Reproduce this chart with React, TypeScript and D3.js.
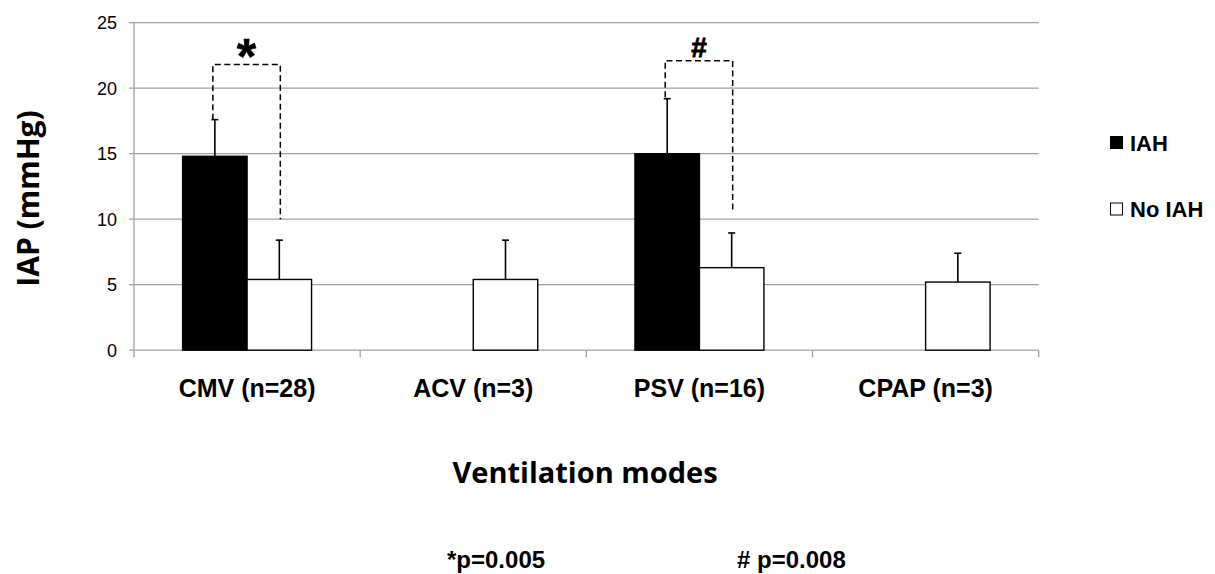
import React from "react";
import * as d3 from "d3";

const categories = ["CMV (n=28)", "ACV (n=3)", "PSV (n=16)", "CPAP (n=3)"];
const seriesNames = ["IAH", "No IAH"];
const iahValues: (number | null)[] = [14.8, null, 15.0, null];
const iahSD: (number | null)[] = [2.8, null, 4.2, null];
const noIahValues: (number | null)[] = [5.4, 5.4, 6.3, 5.2];
const noIahSD: (number | null)[] = [3.0, 3.0, 2.65, 2.2];
const yTicks = [0, 5, 10, 15, 20, 25];
const brackets = [
  { cat: 0, top: 21.8, leftEnd: 17.6, rightEnd: 10.0, label: "*" },
  { cat: 2, top: 22.1, leftEnd: 19.3, rightEnd: 10.6, label: "#" },
];
const pNotes = ["*p=0.005", "# p=0.008"];

const W = 1215;
const H = 574;
const plot = { left: 134, right: 1038.7, top: 22.7, bottom: 350.2 };
const ARIAL = "'Liberation Sans', Arial, sans-serif";
const CALIBRI = "'Open Sans', sans-serif";
const GRID = "#a0a0a0";

export default function App() {
  React.useEffect(() => {
    document.body.style.margin = "0";
  }, []);

  const x = d3.scaleBand<string>().domain(categories).range([plot.left, plot.right]).paddingInner(0).paddingOuter(0);
  const xs = d3.scaleBand<string>().domain(seriesNames).range([0, x.bandwidth()]).paddingInner(0).paddingOuter(0.754);
  const y = d3.scaleLinear().domain([0, 25]).range([plot.bottom, plot.top]);

  const series = [
    { name: "IAH", values: iahValues, sd: iahSD, fill: "#000" },
    { name: "No IAH", values: noIahValues, sd: noIahSD, fill: "#fff" },
  ];

  const boundaries = [...categories.map((c) => x(c)!), plot.right];

  return (
    <svg width={W} height={H} style={{ position: "absolute", left: 0, top: 0, background: "#fff" }}>
      {yTicks.map((t) => (
        <line key={"g" + t} x1={plot.left - 5} x2={plot.right} y1={y(t)} y2={y(t)} stroke={GRID} strokeWidth={1.3} />
      ))}
      <line x1={plot.left} x2={plot.left} y1={plot.top} y2={plot.bottom} stroke={GRID} strokeWidth={1.3} />
      {yTicks.map((t) => (
        <text key={"t" + t} x={117} y={y(t)} dy="0.35em" textAnchor="end" fontFamily={ARIAL} fontSize={18} fill="#000">
          {t}
        </text>
      ))}
      {boundaries.map((b, i) => (
        <line key={"xt" + i} x1={b} x2={b} y1={plot.bottom} y2={plot.bottom + 7} stroke={GRID} strokeWidth={1.3} />
      ))}
      {series.map((s) =>
        categories.map((c, i) => {
          const v = s.values[i];
          if (v == null) return null;
          const bx = x(c)! + xs(s.name)!;
          const bw = xs.bandwidth();
          return (
            <rect
              key={s.name + c}
              x={bx}
              y={y(v)}
              width={bw}
              height={y(0) - y(v)}
              fill={s.fill}
              stroke="#000"
              strokeWidth={1.4}
            />
          );
        })
      )}
      {series.map((s) =>
        categories.map((c, i) => {
          const v = s.values[i];
          const sd = s.sd[i];
          if (v == null || sd == null) return null;
          const cx = x(c)! + xs(s.name)! + xs.bandwidth() / 2;
          return (
            <g key={"e" + s.name + c} stroke="#000" strokeWidth={1.6}>
              <line x1={cx} x2={cx} y1={y(v)} y2={y(v + sd)} />
              <line x1={cx - 3.5} x2={cx + 3.5} y1={y(v + sd)} y2={y(v + sd)} />
            </g>
          );
        })
      )}
      {brackets.map((b, i) => {
        const c = categories[b.cat];
        const lx = x(c)! + xs(seriesNames[0])! + xs.bandwidth() / 2 - 2;
        const rx = x(c)! + xs(seriesNames[1])! + xs.bandwidth() / 2 + 1;
        const isStar = b.label === "*";
        return (
          <g key={"b" + i}>
            <path
              d={`M${lx},${y(b.leftEnd)}V${y(b.top)}H${rx}V${y(b.rightEnd)}`}
              fill="none"
              stroke="#000"
              strokeWidth={1.5}
              strokeDasharray="6,3.5"
            />
            <text
              x={(lx + rx) / 2}
              y={isStar ? y(b.top) + 9 : y(b.top) - 4}
              textAnchor="middle"
              fontFamily={ARIAL}
              fontWeight="bold"
              fontSize={isStar ? 50 : 28}
              fill="#000"
              stroke="#000"
              strokeWidth={isStar ? 0.5 : 0.8}
            >
              {b.label}
            </text>
          </g>
        );
      })}
      {categories.map((c) => (
        <text key={"c" + c} x={x(c)! + x.bandwidth() / 2} y={397} textAnchor="middle" fontFamily={ARIAL} fontWeight="bold" fontSize={25} fill="#000">
          {c}
        </text>
      ))}
      <text x={585} y={483} textAnchor="middle" fontFamily={CALIBRI} fontWeight="bold" fontSize={29} fill="#000">
        Ventilation modes
      </text>
      <text
        transform={`translate(38.5,198.5) rotate(-90)`}
        textAnchor="middle"
        fontFamily={CALIBRI}
        fontWeight="bold"
        fontSize={30}
        fill="#000"
      >
        IAP (mmHg)
      </text>
      {series.map((s, i) => (
        <g key={"l" + s.name}>
          <rect x={1110.5} y={136.5 + i * 66.5} width={12} height={12} fill={s.fill} stroke="#000" strokeWidth={1} />
          <text x={1130} y={151 + i * 66} fontFamily={ARIAL} fontWeight="bold" fontSize={22} fill="#000">
            {s.name}
          </text>
        </g>
      ))}
      <text x={447} y={568} fontFamily={ARIAL} fontWeight="bold" fontSize={24} fill="#000">
        {pNotes[0]}
      </text>
      <text x={737} y={568} fontFamily={ARIAL} fontWeight="bold" fontSize={24} fill="#000">
        {pNotes[1]}
      </text>
    </svg>
  );
}
